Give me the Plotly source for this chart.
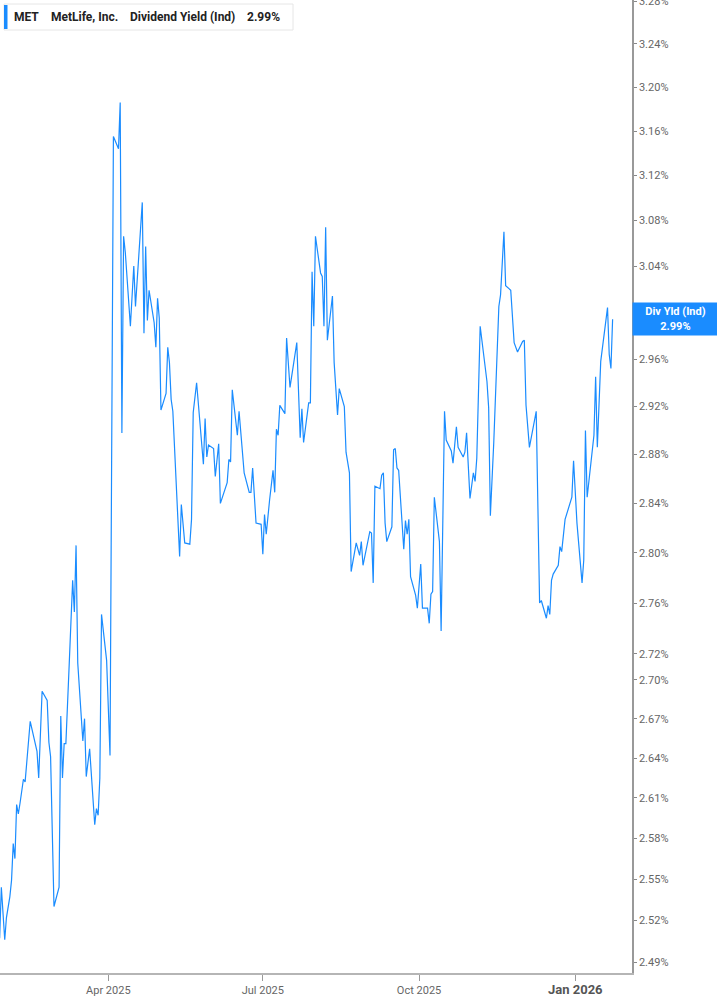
import numpy as np
import plotly.graph_objects as go

dates = [
    "2025-01-27", "2025-01-28", "2025-01-30", "2025-01-31", "2025-02-02", "2025-02-03",
    "2025-02-04", "2025-02-05", "2025-02-06", "2025-02-07", "2025-02-08", "2025-02-09",
    "2025-02-10", "2025-02-11", "2025-02-14", "2025-02-18", "2025-02-19", "2025-02-21",
    "2025-02-24", "2025-02-25", "2025-02-26", "2025-02-28", "2025-03-03", "2025-03-04",
    "2025-03-05", "2025-03-06", "2025-03-07", "2025-03-09", "2025-03-11", "2025-03-12",
    "2025-03-13", "2025-03-14", "2025-03-17", "2025-03-18", "2025-03-19", "2025-03-21",
    "2025-03-24", "2025-03-25", "2025-03-26", "2025-03-27", "2025-03-28", "2025-03-31",
    "2025-04-02", "2025-04-04", "2025-04-07", "2025-04-08", "2025-04-09", "2025-04-10",
    "2025-04-11", "2025-04-14", "2025-04-16", "2025-04-17", "2025-04-21", "2025-04-22",
    "2025-04-23", "2025-04-24", "2025-04-25", "2025-04-28", "2025-04-29", "2025-04-30",
    "2025-05-01", "2025-05-02", "2025-05-05", "2025-05-06", "2025-05-07", "2025-05-08",
    "2025-05-09", "2025-05-13", "2025-05-14", "2025-05-16", "2025-05-19", "2025-05-20",
    "2025-05-21", "2025-05-23", "2025-05-27", "2025-05-28", "2025-05-29", "2025-05-30",
    "2025-06-02", "2025-06-03", "2025-06-05", "2025-06-06", "2025-06-10", "2025-06-11",
    "2025-06-12", "2025-06-13", "2025-06-16", "2025-06-17", "2025-06-19", "2025-06-20",
    "2025-06-23", "2025-06-24", "2025-06-25", "2025-06-27", "2025-06-30", "2025-07-01",
    "2025-07-02", "2025-07-03", "2025-07-05", "2025-07-07", "2025-07-08", "2025-07-09",
    "2025-07-10", "2025-07-11", "2025-07-14", "2025-07-15", "2025-07-17", "2025-07-21",
    "2025-07-23", "2025-07-24", "2025-07-25", "2025-07-28", "2025-07-29", "2025-07-30",
    "2025-07-31", "2025-08-01", "2025-08-04", "2025-08-05", "2025-08-06", "2025-08-07",
    "2025-08-08", "2025-08-11", "2025-08-12", "2025-08-14", "2025-08-15", "2025-08-18",
    "2025-08-19", "2025-08-21", "2025-08-22", "2025-08-25", "2025-08-27", "2025-08-28",
    "2025-08-29", "2025-09-02", "2025-09-03", "2025-09-04", "2025-09-05", "2025-09-08",
    "2025-09-09", "2025-09-10", "2025-09-11", "2025-09-12", "2025-09-15", "2025-09-16",
    "2025-09-17", "2025-09-18", "2025-09-19", "2025-09-22", "2025-09-23", "2025-09-24",
    "2025-09-25", "2025-09-26", "2025-09-29", "2025-09-30", "2025-10-02", "2025-10-03",
    "2025-10-06", "2025-10-07", "2025-10-08", "2025-10-09", "2025-10-10", "2025-10-13",
    "2025-10-14", "2025-10-16", "2025-10-17", "2025-10-20", "2025-10-21", "2025-10-23",
    "2025-10-24", "2025-10-27", "2025-10-28", "2025-10-29", "2025-10-31", "2025-11-02",
    "2025-11-03", "2025-11-04", "2025-11-06", "2025-11-07", "2025-11-10", "2025-11-11",
    "2025-11-12", "2025-11-14", "2025-11-16", "2025-11-17", "2025-11-18", "2025-11-20",
    "2025-11-21", "2025-11-24", "2025-11-26", "2025-11-28", "2025-12-01", "2025-12-02",
    "2025-12-03", "2025-12-05", "2025-12-09", "2025-12-11", "2025-12-12", "2025-12-15",
    "2025-12-16", "2025-12-17", "2025-12-18", "2025-12-19", "2025-12-22", "2025-12-23",
    "2025-12-24", "2025-12-26", "2025-12-30", "2025-12-31", "2026-01-02", "2026-01-05",
    "2026-01-06", "2026-01-07", "2026-01-08", "2026-01-12", "2026-01-13", "2026-01-14",
    "2026-01-16", "2026-01-20", "2026-01-21", "2026-01-22", "2026-01-23",
]

div_yield = [
    2.507, 2.544, 2.506, 2.522, 2.537, 2.549,
    2.576, 2.565, 2.605, 2.598, 2.606, 2.615,
    2.624, 2.622, 2.668, 2.645, 2.625, 2.691,
    2.684, 2.652, 2.641, 2.530, 2.544, 2.672,
    2.625, 2.651, 2.651, 2.713, 2.778, 2.753,
    2.806, 2.713, 2.653, 2.670, 2.626, 2.647,
    2.590, 2.602, 2.597, 2.625, 2.751, 2.715,
    2.642, 3.155, 3.144, 3.186, 2.898, 3.066,
    3.052, 2.988, 3.040, 3.005, 3.096, 2.982,
    3.057, 2.993, 3.019, 2.991, 2.970, 3.012,
    2.995, 2.917, 2.931, 2.970, 2.957, 2.926,
    2.916, 2.797, 2.839, 2.808, 2.807, 2.827,
    2.915, 2.940, 2.872, 2.910, 2.878, 2.888,
    2.885, 2.862, 2.889, 2.840, 2.857, 2.876,
    2.874, 2.934, 2.896, 2.916, 2.886, 2.865,
    2.849, 2.849, 2.869, 2.824, 2.823, 2.799,
    2.831, 2.815, 2.843, 2.867, 2.849, 2.901,
    2.896, 2.921, 2.914, 2.978, 2.936, 2.974,
    2.894, 2.918, 2.890, 2.923, 2.923, 3.035,
    2.988, 3.066, 3.034, 3.031, 2.988, 3.074,
    2.976, 3.014, 2.957, 2.913, 2.935, 2.920,
    2.882, 2.865, 2.785, 2.808, 2.798, 2.809,
    2.790, 2.817, 2.816, 2.776, 2.854, 2.852,
    2.863, 2.865, 2.824, 2.809, 2.821, 2.884,
    2.885, 2.869, 2.867, 2.803, 2.826, 2.815,
    2.827, 2.781, 2.766, 2.756, 2.791, 2.756,
    2.756, 2.744, 2.767, 2.769, 2.845, 2.809,
    2.738, 2.916, 2.892, 2.883, 2.873, 2.903,
    2.886, 2.878, 2.882, 2.898, 2.844, 2.865,
    2.858, 2.877, 2.988, 2.976, 2.941, 2.919,
    2.830, 2.890, 2.961, 3.005, 3.015, 3.070,
    3.023, 3.019, 2.974, 2.966, 2.975, 2.976,
    2.921, 2.886, 2.916, 2.760, 2.762, 2.748,
    2.758, 2.751, 2.778, 2.783, 2.790, 2.805,
    2.801, 2.827, 2.845, 2.875, 2.824, 2.776,
    2.794, 2.900, 2.845, 2.896, 2.945, 2.886,
    2.958, 3.004, 2.964, 2.952, 2.994,
]

y_ticks = [2.49, 2.52, 2.55, 2.58, 2.61, 2.64, 2.67, 2.70, 2.72, 2.76, 2.80, 2.84,
           2.88, 2.92, 2.96, 3.00, 3.04, 3.08, 3.12, 3.16, 3.20, 3.24, 3.28]
x_ticks = ["2025-04-01", "2025-07-01", "2025-10-01", "2026-01-01"]
x_tick_labels = ["Apr 2025", "Jul 2025", "Oct 2025",
                 "<b><span style='font-size:13px;color:#555'>Jan 2026</span></b>"]

ticker = "MET"
company = "MetLife, Inc."
metric = "Dividend Yield (Ind)"
last_val = div_yield[-1]

BLUE = "#1a8cff"
W, H = 717, 1005
ML, MR, MT, MB = 0, 85, 0, 32
PW, PH = W - ML - MR, H - MT - MB


def px(xp):
    return xp / PW


def py(yp):
    return 1 - yp / PH


fig = go.Figure()
fig.add_trace(go.Scatter(
    x=dates, y=div_yield, mode="lines",
    line=dict(color=BLUE, width=1.2), hoverinfo="skip", showlegend=False,
))

fig.update_layout(
    width=W, height=H,
    margin=dict(l=ML, r=MR, t=MT, b=MB, autoexpand=False),
    paper_bgcolor="white", plot_bgcolor="white",
    font=dict(family="Roboto, Inter, sans-serif", color="#666", size=11),
    showlegend=False,
    xaxis=dict(
        type="date",
        range=["2025-01-27 05:00", "2026-02-03 10:00"],
        tickvals=x_ticks, ticktext=x_tick_labels,
        showgrid=False, zeroline=False,
        showline=True, linecolor="#b5b5b5", linewidth=2,
        ticks="outside", ticklen=6, tickcolor="#999", tickwidth=1,
        tickfont=dict(size=11, color="#666"),
    ),
    yaxis=dict(
        type="log", side="right",
        range=[np.log10(2.4822), np.log10(3.281)],
        tickvals=y_ticks, ticktext=[f"{v:.2f}%" for v in y_ticks],
        showgrid=False, zeroline=False,
        showline=True, linecolor="#999", linewidth=1.5,
        ticks="outside", ticklen=3, tickcolor="#888",
        tickfont=dict(size=11, color="#666"),
        ticklabeloverflow="allow",
    ),
)

# Legend box
fig.add_shape(type="rect", xref="paper", yref="paper",
              x0=px(4), x1=px(293), y0=py(30), y1=py(4),
              line=dict(color="#e6e6e6", width=1), fillcolor="white", layer="above")
fig.add_shape(type="rect", xref="paper", yref="paper",
              x0=px(4), x1=px(7.5), y0=py(29), y1=py(5),
              line=dict(width=0), fillcolor=BLUE, layer="above")
legend_parts = [(12, ticker), (49, company), (128, metric), (245, f"{last_val:.2f}%")]
for xp, txt in legend_parts:
    fig.add_annotation(xref="paper", yref="paper", x=px(xp), y=py(17),
                       xanchor="left", yanchor="middle", showarrow=False,
                       text=f"<b>{txt}</b>",
                       font=dict(size=12, color="#222", family="Roboto, Inter, sans-serif"))

# Right value label
fig.add_annotation(xref="paper", yref="y", x=1, y=np.log10(last_val),
                   xanchor="left", yanchor="middle", showarrow=False,
                   text=f"<b>Div Yld (Ind)</b><br><b>{last_val:.2f}%</b>",
                   font=dict(size=11, color="white", family="Roboto, Inter, sans-serif"),
                   bgcolor=BLUE, width=81, height=28, borderpad=2, align="center")

fig.write_html("out.html",
               config={"displayModeBar": False},
               post_script="document.body.style.margin='0';document.body.style.overflow='hidden';")
